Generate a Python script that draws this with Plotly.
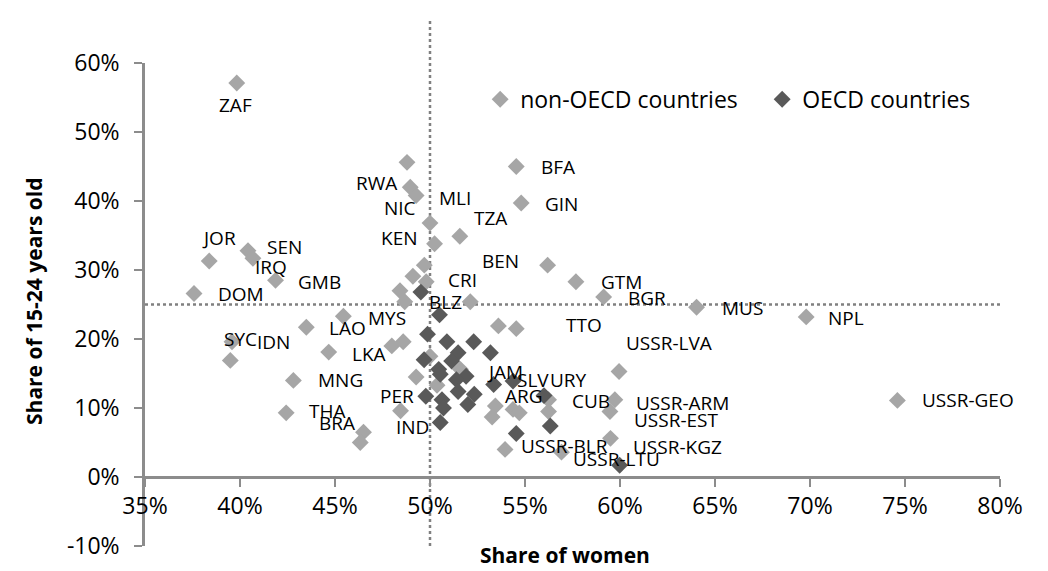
import plotly.graph_objects as go

# ---- data (percent) ----
nonoecd_x = [39.83, 48.79, 48.96, 49.27, 50.0, 50.24, 51.57, 54.54, 54.8, 56.19,
             57.68, 59.14, 52.12, 38.38, 40.42, 40.68, 41.87, 37.58, 49.7, 49.1,
             49.8, 48.42, 48.67, 45.44, 43.49, 39.58, 39.49, 44.67, 42.81, 42.43,
             46.5, 46.33, 47.99, 48.59, 48.45, 53.6, 54.54, 64.03, 69.8, 59.95,
             59.73, 59.47, 59.5, 56.92, 53.95, 74.6, 56.24, 56.24, 53.44, 53.27,
             54.37, 54.7, 49.27, 50.37, 50.0, 51.6]
nonoecd_y = [57.1, 45.6, 42.0, 40.8, 36.8, 33.8, 34.9, 45.0, 39.7, 30.7,
             28.3, 26.1, 25.4, 31.3, 32.8, 31.7, 28.5, 26.6, 30.7, 29.1,
             28.3, 27.0, 25.4, 23.3, 21.7, 19.6, 16.9, 18.1, 14.0, 9.3,
             6.5, 5.0, 19.0, 19.6, 9.6, 21.9, 21.5, 24.6, 23.2, 15.3,
             11.2, 9.5, 5.6, 3.6, 4.0, 11.1, 11.2, 9.5, 10.3, 8.7,
             9.8, 9.3, 14.5, 13.3, 17.5, 15.6]

oecd_x = [49.52, 50.5, 49.87, 50.89, 52.3, 53.18, 51.48, 51.14, 49.69, 50.46,
          51.9, 51.39, 50.54, 53.35, 54.37, 52.33, 51.48, 49.78, 50.63, 51.99,
          50.71, 50.54, 56.0, 56.33, 54.54, 59.98]
oecd_y = [26.8, 23.5, 20.7, 19.6, 19.6, 18.0, 18.0, 16.8, 17.0, 15.6,
          14.6, 14.1, 14.9, 13.4, 13.9, 12.0, 12.4, 11.7, 11.2, 10.5,
          10.0, 7.9, 11.8, 7.4, 6.3, 1.7]

label_names = ["ZAF", "RWA", "NIC", "KEN", "MLI", "TZA", "BFA", "GIN", "BEN", "CRI",
               "GTM", "BGR", "BLZ", "MYS", "LAO", "TTO", "JOR", "SEN", "IRQ", "GMB",
               "DOM", "SYC", "IDN", "LKA", "MNG", "THA", "BRA", "PER", "IND", "JAM",
               "SLV", "URY", "ARG", "CUB", "USSR-ARM", "USSR-EST", "USSR-KGZ", "USSR-LTU",
               "USSR-BLR", "USSR-LVA", "MUS", "NPL", "USSR-GEO"]
label_x = [39.74, 47.18, 48.42, 48.38, 51.3, 53.18, 56.75, 56.92, 53.72, 51.73,
           60.06, 61.43, 50.8, 47.73, 45.66, 58.11, 38.89, 42.35, 41.65, 44.16,
           40.05, 40.0, 41.75, 46.8, 45.27, 44.59, 45.1, 48.24, 49.1, 53.93,
           55.43, 57.3, 54.97, 58.48, 63.3, 62.96, 63.0, 59.8,
           57.1, 62.57, 66.44, 71.89, 78.32]
label_y = [53.9, 42.6, 39.0, 34.7, 40.5, 37.6, 44.9, 39.5, 31.3, 28.6,
           28.2, 26.0, 25.3, 23.0, 21.6, 22.1, 34.7, 33.3, 30.4, 28.3,
           26.5, 20.0, 19.5, 17.8, 14.0, 9.5, 7.8, 11.7, 7.2, 15.2,
           14.0, 14.0, 11.7, 11.0, 10.7, 8.3, 4.3, 2.6,
           4.5, 19.4, 24.5, 23.1, 11.2]

x_ticks = [35, 40, 45, 50, 55, 60, 65, 70, 75, 80]
x_tick_labels = ["35%", "40%", "45%", "50%", "55%", "60%", "65%", "70%", "75%", "80%"]
y_ticks = [-10, 0, 10, 20, 30, 40, 50, 60]
y_tick_labels = ["-10%", "0%", "10%", "20%", "30%", "40%", "50%", "60%"]

women_ref = 50     # vertical reference line
youth_ref = 25     # horizontal reference line

LIGHT = "#A6A6A6"
DARK = "#595959"
AXIS = "#8C8C8C"
FONT = "Open Sans"

fig = go.Figure()
fig.add_trace(go.Scatter(x=nonoecd_x, y=nonoecd_y, mode="markers", name="non-OECD countries",
                         marker=dict(symbol="diamond", size=13, color=LIGHT)))
fig.add_trace(go.Scatter(x=oecd_x, y=oecd_y, mode="markers", name="OECD countries",
                         marker=dict(symbol="diamond", size=13, color=DARK)))

for n, lx, ly in zip(label_names, label_x, label_y):
    fig.add_annotation(x=lx, y=ly, text=n, showarrow=False, xref="x", yref="y",
                       xanchor="center", yanchor="middle",
                       font=dict(family=FONT, size=19, color="#000000"))

# reference lines
fig.add_shape(type="line", xref="x", yref="paper", x0=women_ref, x1=women_ref, y0=0, y1=1.087,
              line=dict(color="#808080", width=2.5, dash="dot"), layer="below")
fig.add_shape(type="line", xref="x", yref="y", x0=35, x1=80, y0=youth_ref, y1=youth_ref,
              line=dict(color="#808080", width=2.5, dash="dot"), layer="below")

# axis titles
fig.add_annotation(x=-0.130, y=0.507, xref="paper", yref="paper", text="<b>Share of 15-24 years old</b>",
                   textangle=-90, showarrow=False, xanchor="center", yanchor="middle",
                   font=dict(family=FONT, size=21, color="#000000"))
fig.add_annotation(x=0.491, y=-0.018, xref="paper", yref="paper", text="<b>Share of women</b>",
                   showarrow=False, xanchor="center", yanchor="middle",
                   font=dict(family=FONT, size=21, color="#000000"))

fig.update_layout(
    width=1048, height=571,
    margin=dict(l=137, r=27, t=55, b=33),
    paper_bgcolor="white", plot_bgcolor="white",
    font=dict(family=FONT, color="#000000"),
    showlegend=True,
    legend=dict(orientation="h", x=0.392, y=0.925, xanchor="left", yanchor="middle",
                font=dict(family=FONT, size=23, color="#000000"),
                entrywidth=237, entrywidthmode="pixels",
                bgcolor="rgba(0,0,0,0)", borderwidth=0),
    xaxis=dict(range=[35, 80], tickvals=x_ticks, ticktext=x_tick_labels,
               anchor="free", position=10/70,
               showline=True, linecolor=AXIS, linewidth=2.5,
               ticks="outside", ticklen=8, tickwidth=2, tickcolor=AXIS,
               showgrid=False, zeroline=False, automargin=False,
               tickfont=dict(family=FONT, size=23, color="#000000")),
    yaxis=dict(range=[-10, 60], tickvals=y_ticks, ticktext=y_tick_labels,
               showline=True, linecolor=AXIS, linewidth=2.5,
               ticks="outside", ticklen=8, tickwidth=2, tickcolor=AXIS,
               showgrid=False, zeroline=False, automargin=False,
               ticklabelstandoff=10,
               tickfont=dict(family=FONT, size=23, color="#000000")),
)

fig.write_html("out.html")
